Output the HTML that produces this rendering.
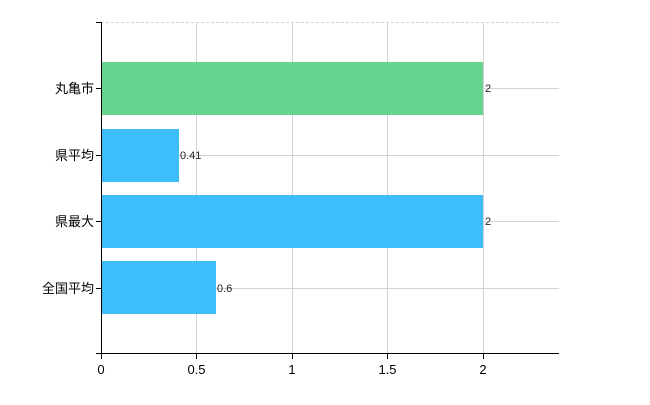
<!DOCTYPE html><html><head><style>body{margin:0;background:#fff}</style></head><body>
<svg width="650" height="400" xmlns="http://www.w3.org/2000/svg" font-family="Liberation Sans, Noto Sans CJK JP, sans-serif">
<g stroke="#d4d4d4" stroke-width="1">
<line x1="101" y1="22.5" x2="559" y2="22.5" stroke-dasharray="3,2"/>
<line x1="101" y1="88.5" x2="559" y2="88.5"/>
<line x1="101" y1="155.5" x2="559" y2="155.5"/>
<line x1="101" y1="221.5" x2="559" y2="221.5"/>
<line x1="101" y1="288.5" x2="559" y2="288.5"/>
<line x1="196.5" y1="22" x2="196.5" y2="354"/>
<line x1="292.5" y1="22" x2="292.5" y2="354"/>
<line x1="387.5" y1="22" x2="387.5" y2="354"/>
<line x1="483.5" y1="22" x2="483.5" y2="354"/>
</g>
<rect x="102" y="62" width="381" height="53" fill="#66d48f"/>
<rect x="102" y="129" width="77" height="53" fill="#3dbefb"/>
<rect x="102" y="195" width="381" height="53" fill="#3dbefb"/>
<rect x="102" y="261" width="114" height="53" fill="#3dbefb"/>
<g font-size="11" fill="#222">
<text x="485" y="92">2</text>
<text x="180" y="159">0.41</text>
<text x="485" y="225">2</text>
<text x="217" y="292">0.6</text>
</g>
<g stroke="#000" stroke-width="1">
<line x1="101.5" y1="22" x2="101.5" y2="354"/>
<line x1="96" y1="22.5" x2="102" y2="22.5"/>
<line x1="96" y1="88.5" x2="102" y2="88.5"/>
<line x1="96" y1="155.5" x2="102" y2="155.5"/>
<line x1="96" y1="221.5" x2="102" y2="221.5"/>
<line x1="96" y1="288.5" x2="102" y2="288.5"/>
<line x1="96" y1="353.5" x2="559" y2="353.5"/>
<line x1="101.5" y1="353" x2="101.5" y2="359"/>
<line x1="196.5" y1="353" x2="196.5" y2="359"/>
<line x1="292.5" y1="353" x2="292.5" y2="359"/>
<line x1="387.5" y1="353" x2="387.5" y2="359"/>
<line x1="483.5" y1="353" x2="483.5" y2="359"/>
</g>
<g font-size="13" fill="#000" text-anchor="end">
<text x="94" y="93">丸亀市</text>
<text x="94" y="160">県平均</text>
<text x="94" y="226">県最大</text>
<text x="94" y="293">全国平均</text>
</g>
<g font-size="13" fill="#000" text-anchor="middle">
<text x="101" y="374">0</text>
<text x="196.5" y="374">0.5</text>
<text x="292" y="374">1</text>
<text x="387.5" y="374">1.5</text>
<text x="483" y="374">2</text>
</g>
</svg>
</body></html>
